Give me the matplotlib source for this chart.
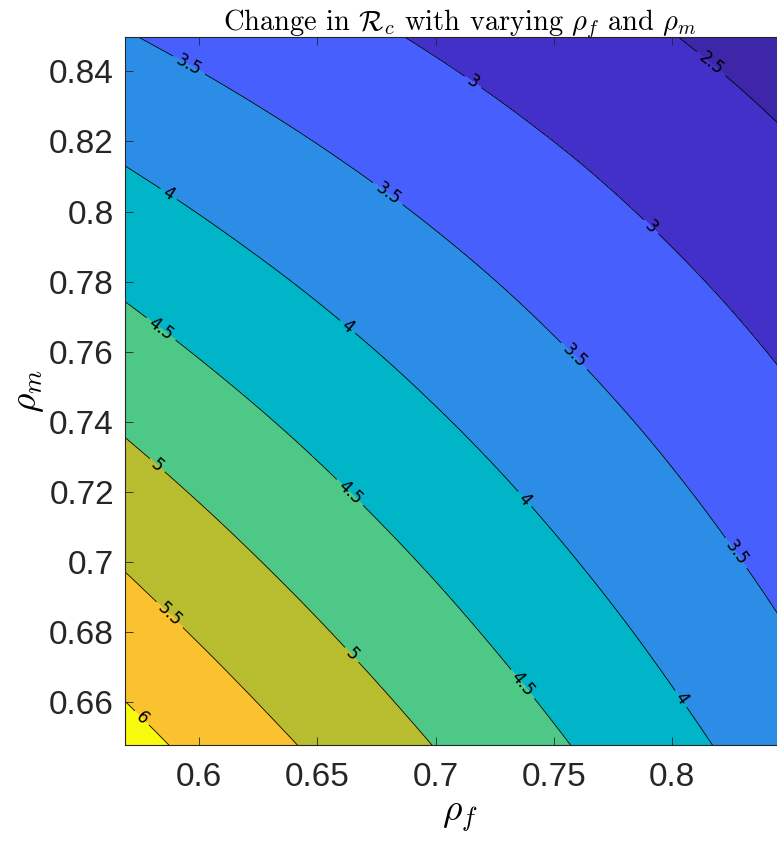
import matplotlib
matplotlib.use("Agg")
import matplotlib.pyplot as plt
import matplotlib.tri as mtri
from matplotlib.ticker import FormatStrFormatter
import numpy as np

# grid of R_c values (rows: rho_m, cols: rho_f)
rho_f = [0.56, 0.58, 0.60, 0.62, 0.64, 0.66, 0.68, 0.70,
         0.72, 0.74, 0.76, 0.78, 0.80, 0.82, 0.84, 0.86]
rho_m = [0.64, 0.66, 0.68, 0.70, 0.72, 0.74, 0.76, 0.78, 0.80, 0.82, 0.84, 0.86]
R_c = [
    [6.378, 6.179, 5.986, 5.797, 5.612, 5.429, 5.250, 5.072, 4.896, 4.722, 4.549, 4.378, 4.208, 4.039, 3.872, 3.706],
    [6.086, 5.899, 5.717, 5.539, 5.364, 5.193, 5.023, 4.855, 4.689, 4.525, 4.361, 4.199, 4.038, 3.878, 3.719, 3.562],
    [5.806, 5.630, 5.459, 5.292, 5.127, 4.965, 4.805, 4.647, 4.490, 4.335, 4.180, 4.027, 3.874, 3.722, 3.572, 3.423],
    [5.535, 5.370, 5.209, 5.051, 4.896, 4.744, 4.593, 4.444, 4.296, 4.149, 4.003, 3.858, 3.714, 3.570, 3.428, 3.286],
    [5.269, 5.114, 4.963, 4.815, 4.670, 4.526, 4.384, 4.244, 4.105, 3.966, 3.829, 3.692, 3.555, 3.420, 3.285, 3.151],
    [5.005, 4.861, 4.719, 4.581, 4.445, 4.310, 4.177, 4.045, 3.914, 3.784, 3.655, 3.526, 3.398, 3.270, 3.143, 3.016],
    [4.743, 4.608, 4.476, 4.347, 4.220, 4.094, 3.970, 3.846, 3.724, 3.602, 3.481, 3.360, 3.239, 3.119, 3.000, 2.881],
    [4.481, 4.356, 4.233, 4.113, 3.995, 3.878, 3.762, 3.647, 3.533, 3.419, 3.305, 3.192, 3.079, 2.967, 2.855, 2.744],
    [4.219, 4.103, 3.990, 3.878, 3.769, 3.660, 3.553, 3.446, 3.340, 3.234, 3.129, 3.023, 2.918, 2.813, 2.709, 2.605],
    [3.957, 3.850, 3.746, 3.643, 3.542, 3.442, 3.343, 3.244, 3.146, 3.048, 2.951, 2.853, 2.756, 2.658, 2.561, 2.465],
    [3.695, 3.597, 3.502, 3.408, 3.315, 3.224, 3.133, 3.042, 2.952, 2.862, 2.772, 2.682, 2.592, 2.502, 2.413, 2.323],
    [3.435, 3.346, 3.260, 3.174, 3.090, 3.006, 2.923, 2.840, 2.758, 2.675, 2.593, 2.510, 2.428, 2.345, 2.263, 2.181],
]
levels = [2.0, 2.5, 3.0, 3.5, 4.0, 4.5, 5.0, 5.5, 6.0, 6.5]
line_levels = [2.5, 3.0, 3.5, 4.0, 4.5, 5.0, 5.5, 6.0]
fill_colors = ["#3e26a8", "#4230c8", "#4760fd", "#2b8de6", "#00b5c8",
               "#4dc886", "#b8bd2f", "#fbc22f", "#f8fa0e"]

# where the inline labels sit (rho_f, rho_m)
label_spots = [
    (0.5886, 0.8327), (0.7095, 0.8304), (0.8151, 0.8410),
    (0.6799, 0.8052), (0.7906, 0.7953), (0.5903, 0.8084),
    (0.6634, 0.7676), (0.7589, 0.7590), (0.5835, 0.7661),
    (0.5827, 0.7279), (0.6638, 0.7199), (0.7386, 0.7185),
    (0.8287, 0.7034), (0.5886, 0.6857), (0.6609, 0.6711),
    (0.7357, 0.6645), (0.8046, 0.6614), (0.5730, 0.6535),
]

plt.rcParams["mathtext.fontset"] = "cm"

fig = plt.figure(figsize=(7.77, 8.48), dpi=100)
ax = fig.add_axes([0.1609, 0.1215, 0.8623, 0.8349])

# regular grid split into triangles (diagonals along the contours),
# then smoothed with matplotlib's cubic refiner
nx, ny = len(rho_f), len(rho_m)
X, Y = np.meshgrid(rho_f, rho_m)
triangles = []
for i in range(ny - 1):
    for j in range(nx - 1):
        a, b = i * nx + j, i * nx + j + 1
        c, d = (i + 1) * nx + j, (i + 1) * nx + j + 1
        triangles += [[a, b, c], [b, d, c]]
tri = mtri.Triangulation(X.ravel(), Y.ravel(), triangles)
z = np.array(R_c).ravel()
interp = mtri.CubicTriInterpolator(tri, z, kind="min_E")
tri_f, z_f = mtri.UniformTriRefiner(tri).refine_field(z, triinterpolator=interp, subdiv=4)

ax.tricontourf(tri_f, z_f, levels=levels, colors=fill_colors)
cs = ax.tricontour(tri_f, z_f, levels=line_levels, colors="black", linewidths=0.6)
ax.clabel(cs, fmt="%g", fontsize=12, inline=True, inline_spacing=4,
          manual=label_spots)

ax.set_xlim(0.5687, 0.852)
ax.set_ylim(0.6478, 0.8498)
ax.set_xticks([0.6, 0.65, 0.7, 0.75, 0.8])
ax.set_yticks([0.66, 0.68, 0.7, 0.72, 0.74, 0.76, 0.78, 0.8, 0.82, 0.84])
ax.xaxis.set_major_formatter(FormatStrFormatter("%g"))
ax.yaxis.set_major_formatter(FormatStrFormatter("%g"))
ax.tick_params(direction="in", top=True, right=True, length=6, width=0.6,
               color="#262626", labelsize=24, labelcolor="#262626")
ax.tick_params(axis="x", pad=12)
ax.tick_params(axis="y", pad=8)
for lab in ax.get_xticklabels() + ax.get_yticklabels():
    lab.set_fontfamily("Liberation Sans")
for sp in ax.spines.values():
    sp.set_color("#262626")
    sp.set_linewidth(0.8)

ax.set_title(r"Change in $\mathcal{R}_c$ with varying $\rho_f$ and $\rho_m$",
             fontsize=20.5, family="cmr10", pad=5)
ax.set_xlabel(r"$\rho_f$", fontsize=27, labelpad=4)
ax.set_ylabel(r"$\rho_m$", fontsize=27, labelpad=2)

fig.savefig("out.png", dpi=100)
